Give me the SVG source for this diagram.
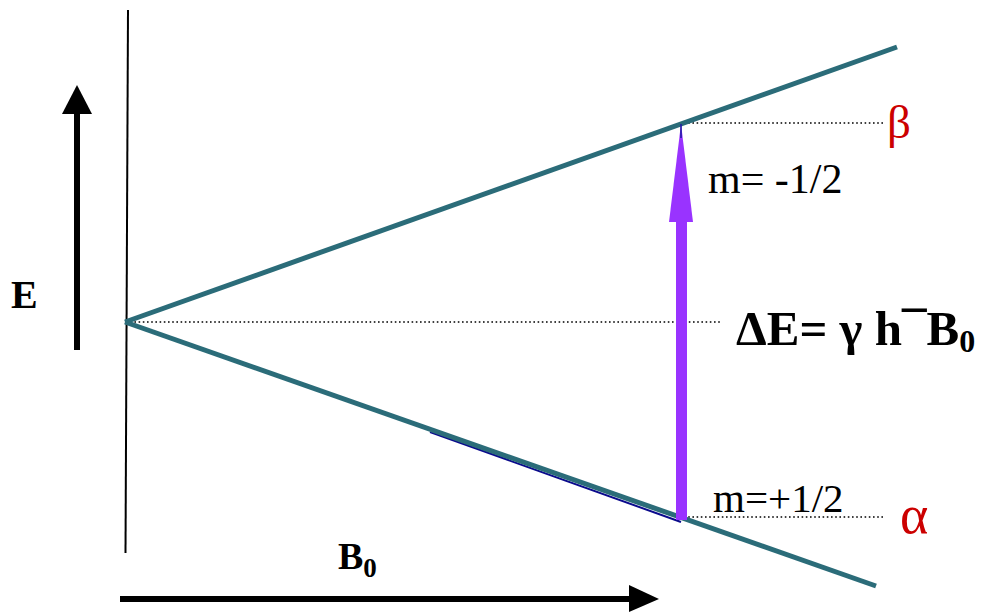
<svg xmlns="http://www.w3.org/2000/svg" width="984" height="612" viewBox="0 0 984 612">
<style>
.lvl{stroke:#2b6c79;stroke-width:5;fill:none;stroke-linecap:butt}
.dot{stroke:#000;stroke-width:1.6;stroke-dasharray:1.6 2.6;fill:none}
.t{font-family:"Liberation Serif","Times New Roman",serif;fill:#000}
.b{font-weight:bold}
.red{fill:#cc0000}
</style>
<rect width="984" height="612" fill="#fff"/>
<g id="axes">
<line x1="128" y1="10" x2="125.5" y2="553" stroke="#000" stroke-width="2"/>
<line x1="77" y1="350" x2="77" y2="110" stroke="#000" stroke-width="6"/>
<polygon points="77,85 62,114 92,114" fill="#000"/>
<line x1="120" y1="599" x2="632" y2="599" stroke="#000" stroke-width="6"/>
<polygon points="659,599 629,585 629,612" fill="#000"/>
</g>
<g id="connectors">
<line class="dot" x1="126" y1="322" x2="720" y2="322"/>
<line class="dot" x1="684" y1="123" x2="884" y2="123"/>
<line class="dot" x1="684" y1="517" x2="884" y2="517"/>
<line class="lvl" x1="125" y1="322" x2="897" y2="47"/>
<line x1="430" y1="432" x2="681" y2="522" stroke="#0a0a8c" stroke-width="2"/>
<line class="lvl" x1="125" y1="322" x2="876" y2="586"/>
</g>
<g id="transition">
<rect x="676" y="218" width="11" height="302" fill="#9933ff"/>
<polygon points="681,124 669,222 693,222" fill="#9933ff"/>
<line x1="681" y1="124" x2="681" y2="138" stroke="#1a1aa0" stroke-width="1.5"/>
</g>
<g id="labels">
<text class="t b" x="11" y="308" font-size="40">E</text>
<text class="t b" x="338" y="569" font-size="38">B<tspan font-size="27" dy="8">0</tspan></text>
<text class="t" x="708" y="193" font-size="42">m= -1/2</text>
<text class="t" x="713" y="512" font-size="41">m=+1/2</text>
<text class="t red" x="887" y="138" font-size="47">β</text>
<text class="t red" x="900" y="533" font-size="54">α</text>
<text class="t b" x="736" y="345" font-size="49">ΔE= γ h¯B<tspan font-size="32" dy="7">0</tspan></text>
</g>
</svg>
